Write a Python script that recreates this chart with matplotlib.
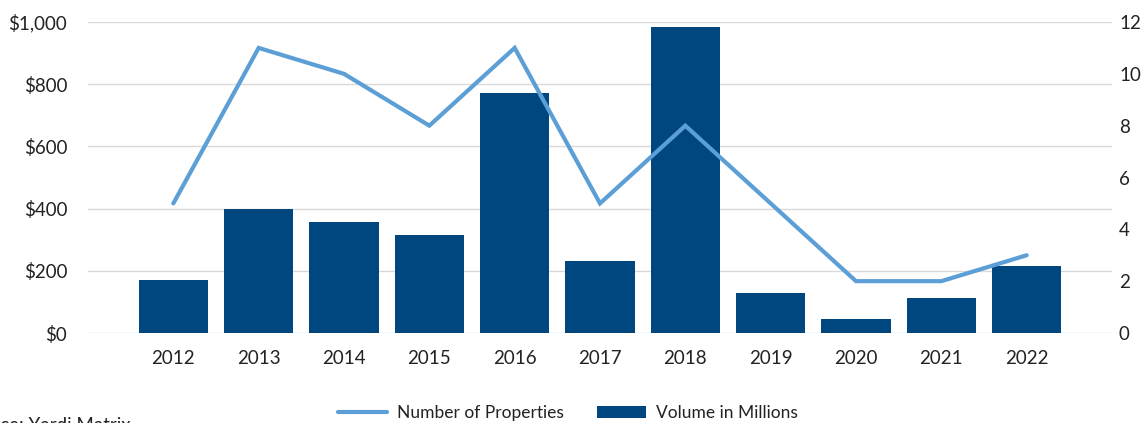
import numpy as np
import matplotlib.pyplot as plt

plt.rcParams['font.family'] = ['Lato', 'DejaVu Sans']

years = ['2012', '2013', '2014', '2015', '2016', '2017', '2018', '2019', '2020', '2021', '2022']
volume = [170, 400, 357, 315, 772, 232, 984, 129, 45, 113, 215]
properties = [5, 11, 10, 8, 11, 5, 8, 5, 2, 2, 3]
left_ticks = [0, 200, 400, 600, 800, 1000]
left_labels = ['$0', '$200', '$400', '$600', '$800', '$1,000']
right_ticks = [0, 2, 4, 6, 8, 10, 12]

bar_color = '#00467F'
line_color = '#5B9FD6'
text_color = '#222222'

fig = plt.figure(figsize=(11.46, 4.23), dpi=100)
ax = fig.add_axes([88 / 1146, 1 - 333 / 423, 1024 / 1146, 311 / 423])
x = np.arange(len(years))

ax.bar(x, volume, width=0.81, color=bar_color, zorder=2, label='Volume in Millions')
ax.set_ylim(0, 1000)
ax.set_xlim(-1, len(years))
ax.set_yticks(left_ticks)
ax.set_yticklabels(left_labels)
ax.set_xticks(x)
ax.set_xticklabels(years)
ax.grid(axis='y', color='#d9d9d9', linewidth=1, zorder=0)
ax.set_axisbelow(True)
for s in ax.spines.values():
    s.set_visible(False)
ax.tick_params(axis='both', length=0, labelsize=13.5, colors=text_color)
ax.tick_params(axis='x', pad=12)
ax.tick_params(axis='y', pad=15)

ax2 = ax.twinx()
ax2.plot(x, properties, color=line_color, linewidth=3, solid_capstyle='round',
         solid_joinstyle='miter', zorder=3, label='Number of Properties')
ax2.set_ylim(0, 12)
ax2.set_yticks(right_ticks)
for s in ax2.spines.values():
    s.set_visible(False)
ax2.tick_params(axis='y', length=0, labelsize=13.5, colors=text_color, pad=5)

h1, l1 = ax2.get_legend_handles_labels()
h2, l2 = ax.get_legend_handles_labels()
fig.legend(h1 + h2, l1 + l2, loc='center', bbox_to_anchor=(568 / 1146, 1 - 413 / 423),
           ncol=2, frameon=False, fontsize=12.5, handlelength=2.8, handletextpad=0.6,
           columnspacing=1.9, labelcolor=text_color)

fig.text(-38 / 1146, 1 - 417 / 423, 'Source: Yardi Matrix', fontsize=13.5, color=text_color,
         va='top', ha='left')

fig.savefig('out.png', dpi=100)
